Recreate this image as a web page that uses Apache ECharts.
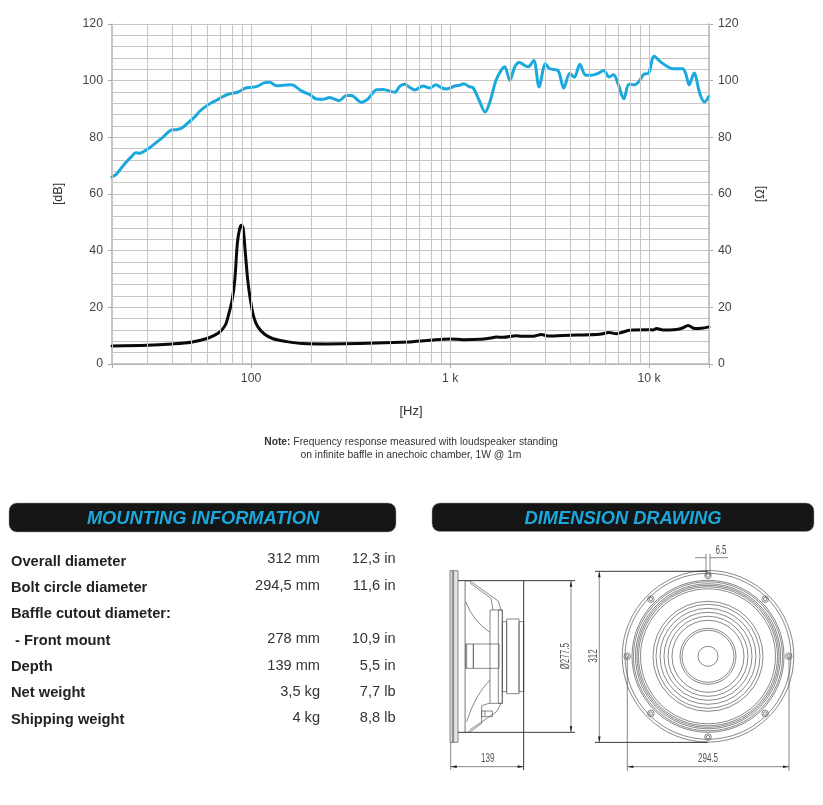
<!DOCTYPE html>
<html><head><meta charset="utf-8">
<style>html,body{margin:0;padding:0;background:#fff}#c{width:823px;height:805px}</style>
<script src="https://cdn.jsdelivr.net/npm/echarts@6/dist/echarts.min.js"></script>
</head><body><div id="c"></div>
<script>
const splFreq=[20,21,22.3,23.6,25,26.3,27.6,29.2,31,33.4,36.1,39.8,42.1,44.7,48.2,52.1,55.2,59.7,63.2,67,72.3,76.6,86,94.8,100,108,117,124,134,156,163,179,197,213,230,248,277,301,319,358,387,427,460,527,558,592,627,664,732,791,847,904,959,1056,1118,1172,1246,1305,1399,1499,1595,1709,1882,1995,2113,2222,2466,2632,2800,3014,3170,3491,3724,3991,4214,4484,4786,5130,5546,5916,6295,6637,6982,7464,7925,8472,8913,9397,9954,10600,11530,13200,14720,15280,15890,16830,17990,18970,20000];
const splDb=[66,66.9,69.2,71.3,73.1,74.6,74.4,75.2,76.4,78.2,80.1,82.6,82.7,83.2,85.1,87.2,89.2,91.1,92.2,93.1,94.4,95.2,96,97.5,97.6,98.1,99.3,99.4,98.2,98.6,98.4,96.4,95.1,93.5,93.4,94.1,92.9,94.8,94.8,92.4,93.6,96.8,96.9,95.9,98,98.7,97.6,96.7,98.1,97.4,98.6,97.5,97.1,98.1,98.4,98.9,97.9,97.5,93.1,88.9,93.1,100.5,104.9,100.1,104.8,106.4,104.9,107.1,97.8,106,104.2,103.5,97.4,102.5,101.2,105.8,102,101.9,102.6,103.6,101.3,102.1,98.9,93.6,98.7,98.6,99.8,102.2,102.7,108.6,106.4,104.2,104.2,102.5,98.5,102.7,95.4,92.5,94.5];
const impFreq=[20,30.1,40.1,49.9,59.4,65.7,69.9,74.3,76.6,80.3,82.8,85.3,87.7,89.4,91.2,93.3,96.2,99.2,103,108,117,129,151,182,239,352,627,705,822,1000,1163,1410,1582,1709,1846,2153,2282,2612,2877,3105,3698,4315,5649,6295,6855,7261,7834,8318,9886,10480,10890,11750,13720,14720,15700,16960,18320,20000];
const impOhm=[6.35,6.6,7.06,7.65,8.9,10.2,11.4,13.8,16.7,22.6,29.6,42.6,47.9,49,47.9,40.2,29.6,22.6,16.7,13.2,10.5,8.9,7.9,7.2,7.06,7.2,7.8,8.1,8.5,8.8,8.6,8.7,9.1,9.5,9.4,10,9.8,9.8,10.4,9.9,10.1,10.2,10.5,11.1,10.7,11.1,11.8,12,12.1,12,12.5,12,12.2,12.7,13.6,12.5,12.6,13.1];
const gridFreqs=[20,30,40,50,60,70,80,90,100,200,300,400,500,600,700,800,900,1000,2000,3000,4000,5000,6000,7000,8000,9000,10000,20000];
const freqLabels={100:'100',1000:'1 k',10000:'10 k'};
const specNames=['Overall diameter','Bolt circle diameter','Baffle cutout diameter:',' - Front mount','Depth','Net weight','Shipping weight'];
const specMetric=['312 mm','294,5 mm','','278 mm','139 mm','3,5 kg','4 kg'];
const specImperial=['12,3 in','11,6 in','','10,9 in','5,5 in','7,7 lb','8,8 lb'];

const BLUE='#1ba9dd',INK='#222',LINE='#555',GRID='#c6c6c6';
const g=[];
const FF='"Liberation Sans",Arial,sans-serif';
function text(x,y,t,o={}){g.push({type:'text',x,y,rotation:o.rot||0,scaleX:o.sx||1,silent:true,style:{text:t,fontFamily:FF,fontSize:o.size||14.6,fontWeight:o.w||'normal',fontStyle:o.st||'normal',fill:o.c||INK,align:o.a||'left',verticalAlign:'middle'}});}
const sty=(w,c)=>({stroke:c||LINE,lineWidth:w||0.7,fill:null});
function line(x1,y1,x2,y2,w,c){g.push({type:'line',silent:true,shape:{x1,y1,x2,y2},style:sty(w,c)});}
function circle(cx,cy,r,w,c){g.push({type:'circle',silent:true,shape:{cx,cy,r},style:sty(w,c)});}
function rect(x,y,w,h,s,f){g.push({type:'rect',silent:true,shape:{x,y,width:w,height:h},style:{stroke:s||LINE,lineWidth:0.7,fill:f||null}});}
function poly(points,w,c){g.push({type:'polyline',silent:true,shape:{points},style:sty(w,c)});}
function curve(x1,y1,cx,cy,x2,y2,w,c){g.push({type:'bezierCurve',silent:true,shape:{x1,y1,x2,y2,cpx1:cx,cpy1:cy},style:sty(w,c)});}
function tri(pts){g.push({type:'polygon',silent:true,shape:{points:pts},style:{fill:'#222',stroke:null}});}
function arrowsH(x1,x2,y){line(x1,y,x2,y);tri([[x1,y],[x1+6,y-1.3],[x1+6,y+1.3]]);tri([[x2,y],[x2-6,y-1.3],[x2-6,y+1.3]]);}
function arrowsV(x,y1,y2){line(x,y1,x,y2);tri([[x,y1],[x-1.3,y1+6],[x+1.3,y1+6]]);tri([[x,y2],[x-1.3,y2-6],[x+1.3,y2-6]]);}
const dimText=(x,y,t,rot)=>text(x,y,t,{size:13,sx:0.62,a:'center',rot:rot||0,c:'#555'});

text(411,411,'[Hz]',{size:13,a:'center',c:'#333'});
g.push({type:'text',x:411,y:442,silent:true,style:{text:'{b|Note:} Frequency response measured with loudspeaker standing',fontFamily:FF,fontSize:10.3,fill:'#333',align:'center',verticalAlign:'middle',rich:{b:{fontFamily:FF,fontSize:10.3,fontWeight:'bold',fill:'#333'}}}});
text(411,455,'on infinite baffle in anechoic chamber, 1W @ 1m',{size:10.3,a:'center',c:'#333'});

[[9,503,387,29,'MOUNTING INFORMATION',203],[432,503,382,28.5,'DIMENSION DRAWING',623]].forEach(b=>{
 g.push({type:'rect',silent:true,shape:{x:b[0],y:b[1],width:b[2],height:b[3],r:8},style:{fill:'#151515',stroke:'#999',lineWidth:0.5}});
 text(b[5],b[1]+16,b[4],{size:18.3,w:'bold',st:'italic',c:BLUE,a:'center'});
});

const nameY=[562,588,614,641,667,693,720],valY=[559,586,614,639,666,692,718];
specNames.forEach((n,i)=>{
 text(i===3?15:11,nameY[i],n.trim(),{w:'bold',size:14.7});
 if(specMetric[i])text(320,valY[i],specMetric[i],{a:'right',c:'#333'});
 if(specImperial[i])text(395.5,valY[i],specImperial[i],{a:'right',c:'#333'});
});

const cx=708,cy=656.3;
[85.8,83,76,74.5,72.5,71,69.5,67.5,55,52,48,44,40,36,28,26,10].forEach(r=>circle(cx,cy,r,0.7,'#555'));
for(let a=0;a<8;a++){const t=a*Math.PI/4,hx=cx+80.8*Math.cos(t),hy=cy+80.8*Math.sin(t);circle(hx,hy,3.3,0.7,'#555');circle(hx,hy,1.7,0.7,'#555');}
line(595,571.3,708,571.3,0.9,'#222');line(595,742.4,708,742.4,0.9,'#222');
arrowsV(599.3,571.3,742.4);dimText(593,656,'312',Math.PI/2);
line(627.3,656,627.3,771,0.7,'#555');line(789,656,789,771,0.7,'#555');
arrowsH(627.3,789,766.7);dimText(708,758,'294.5');
line(706,554,706,576);line(710,554,710,576);
line(695,557.7,706,557.7);line(710,557.7,728,557.7);dimText(721,550,'6.5');

const X=v=>425+v/3,Y=v=>495+v/3;
const P=a=>a.map(p=>[X(p[0]),Y(p[1])]);
const R=(a,b,c,d,f)=>rect(X(a),Y(b),(c-a)/3,(d-b)/3,'#555',f);
R(75,227,99,742,'#e6e6e6');line(X(82),Y(227),X(82),Y(742));line(X(86),Y(227),X(86),Y(742));
g.push({type:'rect',silent:true,shape:{x:X(118),y:Y(257),width:1.6,height:(712-257)/3},style:{fill:'#aaa'}});
line(X(99),Y(257),X(450),Y(257),0.9,'#222');line(X(99),Y(712),X(450),Y(712),0.9,'#222');
poly(P([[120,257],[135,258],[220,318],[228,345]]));poly(P([[135,264],[198,310],[204,345]]));
poly(P([[120,712],[135,711],[170,685],[170,632],[195,624]]));poly(P([[133,706],[215,650],[228,625]]));
R(195,345,232,625);R(220,345,232,625);R(232,380,245,590);R(245,372,282,596);R(282,380,296,590);
R(122,447,145,520);R(145,447,222,520);line(X(125),Y(447),X(125),Y(520));
curve(X(122),Y(320),X(145),Y(380),X(195),Y(412));curve(X(125),Y(680),X(150),Y(600),X(195),Y(555));
R(170,648,202,665);line(X(180),Y(648),X(180),Y(665));
line(X(296),Y(257),X(296),Y(825),0.9,'#222');line(X(77),Y(742),X(77),Y(825),0.7,'#555');
arrowsV(X(438),Y(257),Y(712));dimText(X(420),Y(484),'Ø277.5',Math.PI/2);
arrowsH(X(77),X(296),Y(815));dimText(X(188),Y(790),'139');

const zip=(a,b)=>a.map((v,i)=>[v,b[i]]);
const yAxis=(name,gap)=>({type:'value',min:0,max:120,interval:20,name,nameLocation:'middle',nameGap:gap,nameRotate:90,
 nameTextStyle:{fontFamily:FF,fontSize:12.5,color:'#333'},
 axisLine:{show:true,lineStyle:{color:'#b5b5b5',width:1.5}},axisTick:{show:true,length:4,lineStyle:{color:'#aaa'}},
 axisLabel:{fontFamily:FF,fontSize:12.3,color:'#444',margin:9},
 splitLine:{show:true,lineStyle:{color:GRID,width:1}},minorTick:{show:false,splitNumber:5},minorSplitLine:{show:true,lineStyle:{color:GRID,width:1}}});
echarts.init(document.getElementById('c'),null,{renderer:'canvas'}).setOption({
 animation:false,backgroundColor:'#fff',
 grid:{left:112,right:114,top:24,height:340},
 xAxis:{type:'log',logBase:10,min:20,max:20000,
  axisLine:{show:true,lineStyle:{color:'#b5b5b5',width:1.5}},axisTick:{show:true,length:4,lineStyle:{color:'#aaa'}},
  splitLine:{show:false},minorTick:{show:false},minorSplitLine:{show:false},
  axisLabel:{fontFamily:FF,fontSize:12.3,color:'#444',margin:9,showMinLabel:true,showMaxLabel:true,formatter:v=>freqLabels[Math.round(v)]||''}},
 yAxis:[yAxis('[dB]',47),yAxis('[Ω]',45)],
 graphic:{elements:g},
 series:[
  {type:'line',name:'grid',data:[],silent:true,z:1,markLine:{silent:true,symbol:'none',animation:false,label:{show:false},lineStyle:{color:GRID,width:1,type:'solid'},data:gridFreqs.map(f=>({xAxis:f}))}},
  {type:'line',name:'SPL',data:zip(splFreq,splDb),symbol:'none',smooth:0.3,z:3,lineStyle:{color:BLUE,width:3,join:'round',cap:'round'}},
  {type:'line',name:'Impedance',yAxisIndex:1,data:zip(impFreq,impOhm),symbol:'none',smooth:0.3,z:3,lineStyle:{color:'#0a0a0a',width:3,join:'round',cap:'round'}}
 ]});
</script></body></html>
